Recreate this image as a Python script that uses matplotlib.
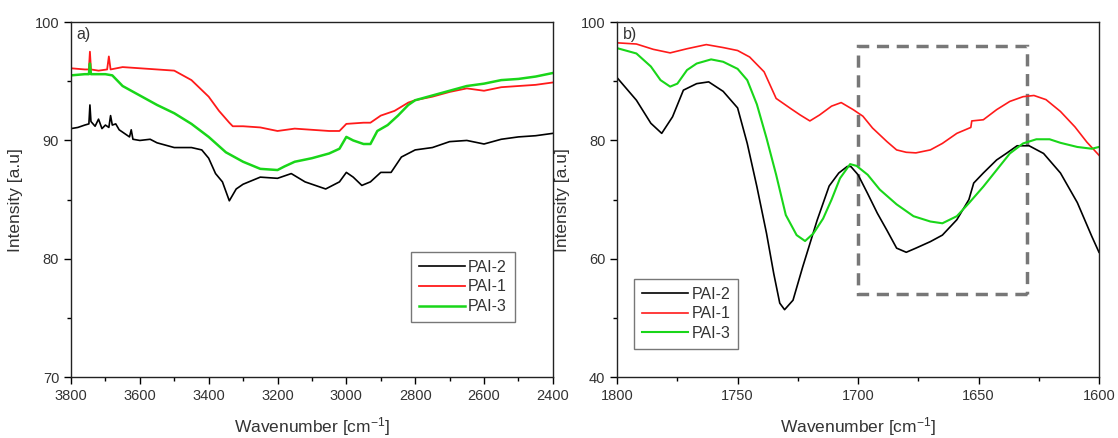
import matplotlib
matplotlib.use("Agg")
import matplotlib.pyplot as plt
from matplotlib.patches import Rectangle
from matplotlib.ticker import MultipleLocator

plt.rcParams["font.family"] = ["Liberation Sans", "DejaVu Sans"]
plt.rcParams["mathtext.default"] = "regular"

# --- a) 3800-2400 cm-1 ---
a_x_pai2 = [3800, 3780, 3760, 3748, 3745, 3742, 3730, 3720, 3710, 3700, 3690, 3685, 3680, 3670,
            3660, 3650, 3630, 3625, 3620, 3600, 3570, 3550, 3500, 3450, 3420, 3400, 3380, 3360,
            3340, 3320, 3300, 3250, 3200, 3160, 3120, 3060, 3020, 3000, 2980, 2955, 2930, 2900,
            2870, 2840, 2800, 2750, 2700, 2650, 2600, 2550, 2500, 2450, 2400]
a_y_pai2 = [91.0, 91.1, 91.3, 91.4, 93.0, 91.6, 91.2, 91.8, 91.0, 91.3, 91.1, 92.1, 91.3, 91.4,
            90.9, 90.7, 90.3, 90.9, 90.1, 90.0, 90.1, 89.8, 89.4, 89.4, 89.2, 88.5, 87.2, 86.5,
            84.9, 85.9, 86.3, 86.9, 86.8, 87.2, 86.5, 85.9, 86.5, 87.3, 86.9, 86.2, 86.5, 87.3,
            87.3, 88.6, 89.2, 89.4, 89.9, 90.0, 89.7, 90.1, 90.3, 90.4, 90.6]

a_x_pai1 = [3800, 3760, 3748, 3745, 3742, 3720, 3695, 3690, 3685, 3650, 3600, 3550, 3500, 3450,
            3400, 3370, 3340, 3330, 3300, 3250, 3200, 3150, 3100, 3050, 3020, 3000, 2950, 2930,
            2900, 2860, 2820, 2800, 2750, 2700, 2650, 2600, 2550, 2500, 2450, 2400]
a_y_pai1 = [96.1, 96.0, 96.0, 97.5, 96.0, 95.9, 96.0, 97.1, 96.0, 96.2, 96.1, 96.0, 95.9, 95.1,
            93.7, 92.5, 91.5, 91.2, 91.2, 91.1, 90.8, 91.0, 90.9, 90.8, 90.8, 91.4, 91.5, 91.5,
            92.1, 92.5, 93.2, 93.4, 93.7, 94.1, 94.4, 94.2, 94.5, 94.6, 94.7, 94.9]

a_x_pai3 = [3800, 3760, 3748, 3745, 3742, 3700, 3680, 3650, 3600, 3550, 3500, 3450, 3400, 3350,
            3300, 3250, 3200, 3180, 3150, 3100, 3050, 3020, 3000, 2980, 2950, 2930, 2910, 2880,
            2850, 2820, 2800, 2750, 2700, 2650, 2600, 2550, 2500, 2450, 2400]
a_y_pai3 = [95.5, 95.6, 95.6, 96.5, 95.6, 95.6, 95.5, 94.6, 93.8, 93.0, 92.3, 91.4, 90.3, 89.0,
            88.2, 87.6, 87.5, 87.8, 88.2, 88.5, 88.9, 89.3, 90.3, 90.0, 89.7, 89.7, 90.8, 91.3,
            92.1, 93.0, 93.4, 93.8, 94.2, 94.6, 94.8, 95.1, 95.2, 95.4, 95.7]

# --- b) 1800-1600 cm-1 ---
b_x_pai2 = [1800, 1792, 1786, 1781.5, 1777, 1772.5, 1767, 1762, 1756, 1750, 1746, 1742, 1738,
            1735, 1732.5, 1730.5, 1727, 1723, 1717, 1712, 1708, 1704.5, 1703, 1700, 1696, 1692,
            1688, 1684, 1680, 1676, 1670, 1665, 1659, 1654, 1652, 1648, 1642.5, 1638.5, 1634,
            1629, 1623, 1616, 1609, 1603, 1600]
b_y_pai2 = [90.6, 86.8, 82.9, 81.2, 84.0, 88.5, 89.6, 89.9, 88.3, 85.5, 79.5, 72.2, 64.3,
            57.5, 52.5, 51.4, 53.0, 58.6, 66.5, 72.3, 74.5, 75.6, 75.6, 74.2, 71.0, 67.7,
            64.8, 61.8, 61.1, 61.8, 62.9, 64.0, 66.6, 70.0, 72.8, 74.5, 76.7, 77.8, 79.1,
            79.1, 77.8, 74.5, 69.5, 63.8, 61.1]

b_x_pai1 = [1800, 1792, 1785, 1778, 1771, 1763, 1756, 1750, 1745, 1739, 1734, 1728, 1724, 1720,
            1716, 1711, 1707, 1702, 1698, 1694, 1688, 1684, 1680, 1676, 1670, 1665, 1659,
            1653.2, 1652.8, 1648, 1642.5, 1637, 1631.5, 1627, 1622, 1616, 1610, 1605, 1600]
b_y_pai1 = [96.5, 96.3, 95.4, 94.8, 95.5, 96.2, 95.7, 95.2, 94.1, 91.6, 87.1, 85.4, 84.3, 83.3,
            84.3, 85.8, 86.4, 85.2, 84.1, 82.1, 79.8, 78.4, 78.0, 77.9, 78.4, 79.5, 81.2,
            82.2, 83.3, 83.5, 85.2, 86.6, 87.4, 87.6, 86.9, 84.9, 82.3, 79.7, 77.5]

b_x_pai3 = [1800, 1792, 1786, 1782, 1778, 1775, 1771, 1767, 1761, 1756, 1750, 1746, 1742, 1738,
            1734, 1730, 1725.5, 1722, 1718.5, 1714.5, 1711, 1707.5, 1703.3, 1700.6, 1696, 1691,
            1684, 1677, 1670, 1665, 1659, 1654, 1648, 1642.5, 1637, 1631.5, 1626, 1620.5, 1616,
            1609, 1603, 1600]
b_y_pai3 = [95.6, 94.7, 92.5, 90.2, 89.1, 89.6, 91.9, 93.0, 93.7, 93.3, 92.1, 90.2, 86.1, 80.4,
            74.2, 67.4, 64.0, 63.0, 64.3, 66.8, 70.0, 73.6, 76.0, 75.7, 74.2, 71.7,
            69.2, 67.2, 66.3, 66.0, 67.2, 69.4, 72.2, 75.0, 77.8, 79.5, 80.2, 80.2, 79.6,
            78.9, 78.6, 78.9]

# пунктирная рамка на панели b)
box_x = (1700, 1630)
box_y = (54, 96)

names = ["PAI-2", "PAI-1", "PAI-3"]
colors = ["#000000", "#ff1a1a", "#19d619"]
txt = "#333333"

fig = plt.figure(figsize=(11.18, 4.38), dpi=100)
ax1 = fig.add_axes([0.0635, 0.139, 0.431, 0.8105])
ax2 = fig.add_axes([0.552, 0.139, 0.431, 0.8105])

ax1.plot(a_x_pai2, a_y_pai2, color=colors[0], lw=1.2, label=names[0])
ax1.plot(a_x_pai1, a_y_pai1, color=colors[1], lw=1.3, label=names[1])
ax1.plot(a_x_pai3, a_y_pai3, color=colors[2], lw=1.8, label=names[2])

ax2.plot(b_x_pai2, b_y_pai2, color=colors[0], lw=1.2, label=names[0])
ax2.plot(b_x_pai1, b_y_pai1, color=colors[1], lw=1.2, label=names[1])
ax2.plot(b_x_pai3, b_y_pai3, color=colors[2], lw=1.5, label=names[2])

ax2.add_patch(Rectangle((box_x[1], box_y[0]), box_x[0] - box_x[1], box_y[1] - box_y[0],
                        fill=False, edgecolor="#777777", lw=2.5, ls=(0, (3.5, 2.2))))

ax1.set_xlim(3800, 2400)
ax1.set_ylim(70, 100)
ax1.xaxis.set_major_locator(MultipleLocator(200))
ax1.xaxis.set_minor_locator(MultipleLocator(100))
ax1.yaxis.set_major_locator(MultipleLocator(10))
ax1.yaxis.set_minor_locator(MultipleLocator(5))

ax2.set_xlim(1800, 1600)
ax2.set_ylim(40, 100)
ax2.xaxis.set_major_locator(MultipleLocator(50))
ax2.xaxis.set_minor_locator(MultipleLocator(25))
ax2.yaxis.set_major_locator(MultipleLocator(20))
ax2.yaxis.set_minor_locator(MultipleLocator(10))

for ax, tag in [(ax1, "a)"), (ax2, "b)")]:
    ax.tick_params(which="both", direction="out", top=False, right=False,
                   labelsize=10.5, labelcolor=txt)
    ax.tick_params(which="major", length=5, width=1)
    ax.tick_params(which="minor", length=3, width=1)
    for s in ax.spines.values():
        s.set_linewidth(1.0)
        s.set_color("#222222")
    ax.set_xlabel("Wavenumber [cm$^{-1}$]", fontsize=12.5, color=txt, labelpad=9)
    ax.set_ylabel("Intensity [a.u]", fontsize=12.5, color=txt, labelpad=8)
    ax.text(0.012, 0.985, tag, transform=ax.transAxes, ha="left", va="top",
            fontsize=11.5, color=txt)

leg_kw = dict(fontsize=11.5, frameon=True, fancybox=False, edgecolor="#555555",
              handlelength=2.9, handletextpad=0.2, labelspacing=0.3, borderpad=0.5,
              borderaxespad=0.0)
leg1 = ax1.legend(loc="lower left", bbox_to_anchor=(0.705, 0.155), **leg_kw)
leg2 = ax2.legend(loc="lower left", bbox_to_anchor=(0.035, 0.079), **leg_kw)
for leg in (leg1, leg2):
    leg.get_frame().set_linewidth(1.0)
    for t in leg.get_texts():
        t.set_color(txt)

plt.savefig("out.png", dpi=100)
plt.close()
